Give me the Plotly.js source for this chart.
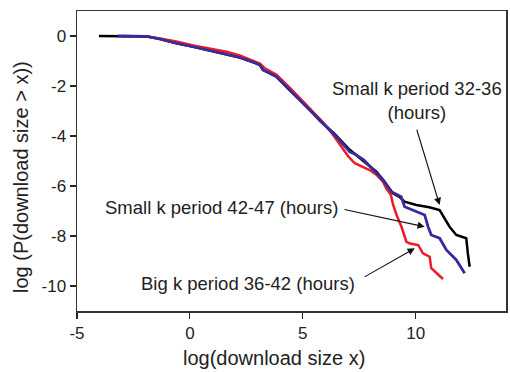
<!DOCTYPE html>
<html>
<head>
<meta charset="utf-8">
<script src="https://cdn.plot.ly/plotly-3.0.1.min.js"></script>
<style>html,body{margin:0;padding:0;background:#fff;}#chart{width:510px;height:372px;}</style>
</head>
<body>
<div id="chart"></div>
<script>
// Series: small k period 32-36 (black)
var blackX = [-4.03, -3.19, -2.5, -1.9, -1.33, -0.6, 0.15, 0.9, 1.62, 2.21, 2.9, 3.1, 3.24, 3.84, 4.42, 5.16, 5.75, 6.42, 7.08, 7.6, 8.26, 8.6, 8.99, 9.3, 9.51, 10.03, 10.6, 11.06, 11.28, 11.5, 11.8, 12.24, 12.31, 12.39];
var blackY = [0, 0, 0, -0.02, -0.12, -0.29, -0.43, -0.58, -0.73, -0.86, -1.08, -1.16, -1.36, -1.63, -2.16, -2.8, -3.38, -3.93, -4.55, -4.95, -5.43, -5.8, -6.29, -6.45, -6.63, -6.76, -6.85, -6.96, -7.29, -7.63, -7.96, -8.09, -8.69, -9.23];
// Series: big k period 36-42 (red)
var redX = [-3.0, -2.5, -1.9, -1.33, -0.6, 0.15, 0.9, 1.62, 2.21, 2.9, 3.1, 3.3, 3.84, 4.42, 5.16, 5.9, 6.3, 6.64, 7.0, 7.3, 7.96, 8.26, 8.55, 8.7, 8.9, 9.0, 9.15, 9.37, 9.59, 9.75, 10.11, 10.32, 10.62, 10.69, 11.21];
var redY = [0, 0, -0.02, -0.1, -0.22, -0.38, -0.5, -0.63, -0.78, -1.02, -1.1, -1.28, -1.55, -2.07, -2.75, -3.45, -3.9, -4.36, -4.8, -5.09, -5.36, -5.55, -5.83, -6.1, -6.35, -6.75, -7.15, -7.63, -8.23, -8.3, -8.36, -8.69, -8.83, -9.29, -9.72];
// Series: small k period 42-47 (blue)
var blueX = [-3.19, -2.5, -1.9, -1.33, -0.6, 0.15, 0.9, 1.62, 2.21, 2.9, 3.1, 3.24, 3.84, 4.42, 5.16, 5.9, 6.49, 7.08, 7.3, 7.7, 8.26, 8.55, 8.92, 9.36, 9.51, 10.03, 10.4, 10.55, 10.69, 11.06, 11.36, 11.8, 12.17];
var blueY = [0, 0, -0.02, -0.12, -0.29, -0.43, -0.58, -0.73, -0.86, -1.08, -1.16, -1.36, -1.63, -2.16, -2.83, -3.49, -4.03, -4.63, -4.72, -4.95, -5.49, -5.76, -6.23, -6.43, -6.83, -7.03, -7.16, -7.63, -7.96, -8.09, -8.56, -8.96, -9.49];

var xTicks = [-5, 0, 5, 10];
var yTicks = [0, -2, -4, -6, -8, -10];
var xTitle = 'log(download size x)';
var yTitle = 'log (P(download size > x))';

var labels = ["Small k period 32-36<br>(hours)", "Small k period 42-47 (hours)", "Big k period 36-42 (hours)"];
var labelX = [10.06, 1.39, 2.57];
var labelY = [-2.58, -6.87, -9.91];
var arrowHeadX = [11.06, 10.4, 9.96];
var arrowHeadY = [-6.76, -7.63, -8.49];
var arrowTailX = [10.03, 6.78, 7.67];
var arrowTailY = [-3.69, -6.93, -9.67];

var FONT = 'Liberation Sans, Arial, Helvetica, sans-serif';

var traces = [
  {x: blackX, y: blackY, mode: 'lines', line: {color: '#000000', width: 2.5}, hoverinfo: 'skip'},
  {x: redX, y: redY, mode: 'lines', line: {color: '#ec1c24', width: 2.5}, hoverinfo: 'skip'},
  {x: blueX, y: blueY, mode: 'lines', line: {color: '#3a2a9e', width: 2.8}, hoverinfo: 'skip'}
];

var annotations = [];
for (var i = 0; i < labels.length; i++) {
  annotations.push({x: labelX[i], y: labelY[i], xref: 'x', yref: 'y', text: labels[i], showarrow: false,
    font: {family: FONT, size: 18.5, color: '#222'}, xanchor: 'center', yanchor: 'middle'});
  annotations.push({x: arrowHeadX[i], y: arrowHeadY[i], ax: arrowTailX[i], ay: arrowTailY[i],
    xref: 'x', yref: 'y', axref: 'x', ayref: 'y', text: '', showarrow: true,
    arrowhead: 2, arrowsize: 1.3, arrowwidth: 1.1, arrowcolor: '#111', standoff: 0, startstandoff: 0});
}
// axis titles (placed as annotations so their off-centre position matches the original)
annotations.push({x: 0.459, y: -0.157, xref: 'paper', yref: 'paper', text: xTitle, showarrow: false,
  font: {family: FONT, size: 20, color: '#222'}, xanchor: 'center', yanchor: 'middle'});
annotations.push({x: -0.1305, y: 0.4467, xref: 'paper', yref: 'paper', text: yTitle, showarrow: false,
  textangle: -90, font: {family: FONT, size: 20, color: '#222'}, xanchor: 'center', yanchor: 'middle'});

var layout = {
  width: 510, height: 372,
  margin: {l: 77, r: 4, t: 11, b: 61},
  paper_bgcolor: '#fff', plot_bgcolor: '#fff',
  showlegend: false,
  font: {family: FONT, color: '#222'},
  xaxis: {
    range: [-5, 14], tickvals: xTicks, ticktext: xTicks.map(String),
    showgrid: false, zeroline: false, showline: true, mirror: true,
    linecolor: '#333', linewidth: 1.5, ticks: 'outside', ticklen: 6, tickwidth: 1.2, tickcolor: '#222',
    tickfont: {family: FONT, size: 17, color: '#222'}
  },
  yaxis: {
    range: [-11, 1], tickvals: yTicks, ticktext: yTicks.map(String),
    showgrid: false, zeroline: false, showline: true, mirror: true,
    linecolor: '#333', linewidth: 1.5, ticks: 'outside', ticklen: 6, tickwidth: 1.2, tickcolor: '#222',
    tickfont: {family: FONT, size: 17, color: '#222'}
  },
  annotations: annotations
};

Plotly.newPlot('chart', traces, layout, {staticPlot: true, displayModeBar: false});
</script>
</body>
</html>
